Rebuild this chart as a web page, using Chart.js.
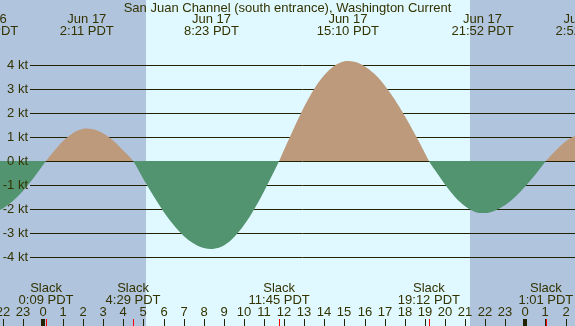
<!DOCTYPE html>
<html>
<head>
<meta charset="utf-8">
<script src="https://cdn.jsdelivr.net/npm/chart.js@4"></script>
<style>
    html, body { margin: 0; padding: 0; background: #b0c4de; }
    #wrap { width: 575px; height: 326px; }
</style>
</head>
<body>
<div id="wrap"><canvas id="current_chart" width="575" height="326"></canvas></div>
<script>
// -------------------
// DATA
// -------------------
const title = 'San Juan Channel (south entrance), Washington Current';

// hours since midnight Jun 17 (negative = Jun 16, > 24 = Jun 18)
const hours = [-2.8, -2.2, -2, -1.5, -1, -0.5, 0, 0.15, 0.5, 1, 1.5, 2, 2.18, 2.5, 3, 3.5, 4, 4.48,
    5, 5.5, 6, 6.5, 7, 7.5, 8, 8.38, 8.5, 9, 9.5, 10, 10.5, 11, 11.5, 11.75,
    12, 12.5, 13, 13.5, 14, 14.5, 15, 15.17, 15.5, 16, 16.5, 17, 17.5, 18, 18.5, 19, 19.2,
    19.5, 20, 20.5, 21, 21.5, 21.87, 22, 22.5, 23, 23.5, 24, 24.5, 25, 25.02,
    25.5, 26, 26.5, 26.87];
const knots = [-2.17, -2.06, -1.98, -1.67, -1.25, -0.74, -0.17, 0, 0.36, 0.83, 1.17, 1.34, 1.35, 1.32, 1.15, 0.84, 0.43, 0,
    -0.76, -1.46, -2.11, -2.67, -3.12, -3.44, -3.63, -3.67, -3.66, -3.52, -3.18, -2.67, -2.02, -1.26, -0.43, 0,
    0.48, 1.40, 2.27, 3.01, 3.58, 3.97, 4.16, 4.17, 4.14, 3.95, 3.62, 3.15, 2.56, 1.87, 1.12, 0.33, 0,
    -0.38, -0.98, -1.50, -1.89, -2.12, -2.17, -2.17, -2.06, -1.83, -1.49, -1.05, -0.56, -0.02, 0,
    0.43, 0.81, 1.05, 1.10];

const yTicks = [-4, -3, -2, -1, 0, 1, 2, 3, 4];
const hourTicks = [-2, -1, 0, 1, 2, 3, 4, 5, 6, 7, 8, 9, 10, 11, 12, 13, 14, 15, 16, 17, 18, 19, 20, 21, 22, 23, 24, 25, 26];
const hourLabels = ['22', '23', '0', '1', '2', '3', '4', '5', '6', '7', '8', '9', '10', '11', '12', '13', '14', '15', '16', '17', '18', '19', '20', '21', '22', '23', '0', '1', '2'];
const midnights = [0, 24];

const sunrise = 5.12;
const sunset = 21.24;

const peakHours = [-2.78, 2.18, 8.38, 15.17, 21.87, 26.87];
const peakDates = ['Jun 16', 'Jun 17', 'Jun 17', 'Jun 17', 'Jun 17', 'Jun 18'];
const peakTimes = ['21:13 PDT', '2:11 PDT', '8:23 PDT', '15:10 PDT', '21:52 PDT', '2:52 PDT'];

const slackHours = [0.15, 4.48, 11.75, 19.2, 25.02];
const slackTimes = ['0:09 PDT', '4:29 PDT', '11:45 PDT', '19:12 PDT', '1:01 PDT'];

// -------------------
// COLORS
// -------------------
const colors = {
    night: '#b0c4de',
    day: '#e0f8ff',
    flood: '#bc9a7b',
    ebb: '#51946f',
    text: '#333300',
    grid: '#222200',
    slack: '#ff0000',
};
const font = '13px "Liberation Sans", Arial, sans-serif';

// -------------------
// PLUGIN
// -------------------
const tidePlugin = {
    id: 'tidePlugin',
    beforeDraw(chart) {
        const c = chart.ctx;
        const x = chart.scales.x;
        c.save();
        c.fillStyle = colors.night;
        c.fillRect(0, 0, chart.width, chart.height);
        c.fillStyle = colors.day;
        const x0 = Math.round(x.getPixelForValue(sunrise));
        const x1 = Math.round(x.getPixelForValue(sunset));
        c.fillRect(x0, 0, x1 - x0, chart.height);
        c.restore();
    },
    beforeDatasetsDraw(chart) {
        const c = chart.ctx;
        const y = chart.scales.y;
        c.save();
        c.strokeStyle = colors.grid;
        c.lineWidth = 1;
        yTicks.forEach(function (v) {
            const py = Math.round(y.getPixelForValue(v)) + 0.5;
            c.beginPath();
            c.moveTo(30, py);
            c.lineTo(chart.width, py);
            c.stroke();
        });
        c.restore();
    },
    afterDatasetsDraw(chart) {
        const c = chart.ctx;
        const x = chart.scales.x;
        const y = chart.scales.y;
        c.save();
        c.font = font;
        c.fillStyle = colors.text;
        c.textBaseline = 'middle';

        // y labels
        c.textAlign = 'right';
        yTicks.forEach(function (v) {
            c.fillText(v + ' kt', 28, y.getPixelForValue(v));
        });

        // title
        c.textAlign = 'center';
        c.fillText(title, chart.width / 2, 8);

        // max / min labels
        peakHours.forEach(function (h, i) {
            const px = x.getPixelForValue(h);
            c.fillText(peakDates[i], px, 19);
            c.fillText(peakTimes[i], px, 31);
        });

        // slack labels
        slackHours.forEach(function (h, i) {
            const px = x.getPixelForValue(h);
            c.fillText('Slack', px, 288);
            c.fillText(slackTimes[i], px, 300);
        });

        // hour labels + ticks
        hourTicks.forEach(function (h, i) {
            const px = Math.round(x.getPixelForValue(h));
            c.fillText(hourLabels[i], px, 312);
            c.fillStyle = colors.grid;
            c.fillRect(px, 319, 1, 7);
            c.fillStyle = colors.text;
        });
        c.fillStyle = colors.grid;
        midnights.forEach(function (h) {
            const px = Math.round(x.getPixelForValue(h));
            c.fillRect(px - 2, 319, 4, 7);
        });
        c.fillStyle = colors.slack;
        slackHours.forEach(function (h) {
            const px = Math.round(x.getPixelForValue(h));
            c.fillRect(px, 319, 1, 7);
        });
        c.restore();
    },
};

// -------------------
// CHART
// -------------------
const points = hours.map(function (h, i) { return { x: h, y: knots[i] }; });

const ctx = document.getElementById('current_chart').getContext('2d');
const myChart = new Chart(ctx, {
    type: 'line',
    data: {
        datasets: [{
            data: points,
            borderWidth: 0,
            borderColor: 'rgba(0,0,0,0)',
            pointRadius: 0,
            cubicInterpolationMode: 'monotone',
            fill: {
                target: 'origin',
                above: colors.flood,
                below: colors.ebb,
            },
        }],
    },
    options: {
        responsive: false,
        animation: false,
        layout: { padding: 0 },
        plugins: {
            legend: { display: false },
            title: { display: false },
            tooltip: { enabled: false },
        },
        scales: {
            x: { type: 'linear', min: -2.14, max: 26.47, display: false },
            y: { type: 'linear', min: -6.875, max: 6.708, display: false },
        },
    },
    plugins: [tidePlugin],
});
</script>
</body>
</html>
